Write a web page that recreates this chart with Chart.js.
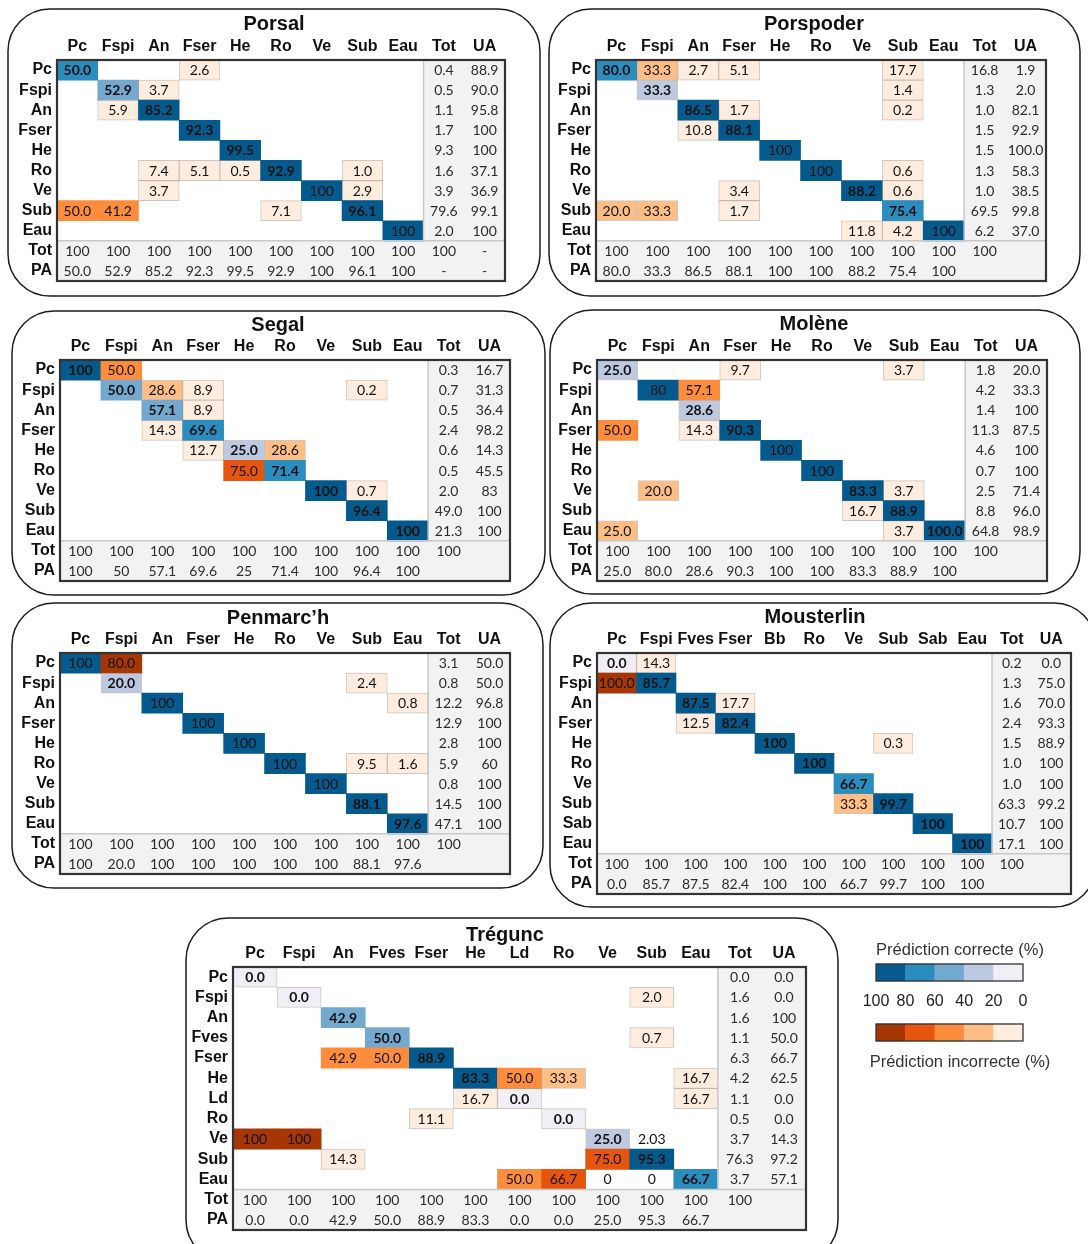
<!DOCTYPE html>
<html>
<head>
<meta charset="utf-8">
<script src="https://cdn.jsdelivr.net/npm/chart.js@4.4.1/dist/chart.umd.min.js"></script>
<style>
  body { margin: 0; background: #fff; width: 1088px; height: 1244px; overflow: hidden; position: relative; }
  canvas { position: absolute; }
</style>
</head>
<body>
<script>
// ---- confusion matrices (% per reference column), one block per site ----

const porsalCols = ['Pc', 'Fspi', 'An', 'Fser', 'He', 'Ro', 'Ve', 'Sub', 'Eau'];
const porsalRows = ['Pc', 'Fspi', 'An', 'Fser', 'He', 'Ro', 'Ve', 'Sub', 'Eau'];
const porsalMatrix = [
  ['50.0', '', '', '2.6', '', '', '', '', ''],
  ['', '52.9', '3.7', '', '', '', '', '', ''],
  ['', '5.9', '85.2', '', '', '', '', '', ''],
  ['', '', '', '92.3', '', '', '', '', ''],
  ['', '', '', '', '99.5', '', '', '', ''],
  ['', '', '7.4', '5.1', '0.5', '92.9', '', '1.0', ''],
  ['', '', '3.7', '', '', '', '100', '2.9', ''],
  ['50.0', '41.2', '', '', '', '7.1', '', '96.1', ''],
  ['', '', '', '', '', '', '', '', '100']
];
const porsalTot = ['0.4', '0.5', '1.1', '1.7', '9.3', '1.6', '3.9', '79.6', '2.0'];
const porsalUA = ['88.9', '90.0', '95.8', '100', '100', '37.1', '36.9', '99.1', '100'];
const porsalTotRow = ['100', '100', '100', '100', '100', '100', '100', '100', '100', '100', '-'];
const porsalPA = ['50.0', '52.9', '85.2', '92.3', '99.5', '92.9', '100', '96.1', '100', '-', '-'];

const porspoderCols = ['Pc', 'Fspi', 'An', 'Fser', 'He', 'Ro', 'Ve', 'Sub', 'Eau'];
const porspoderRows = ['Pc', 'Fspi', 'An', 'Fser', 'He', 'Ro', 'Ve', 'Sub', 'Eau'];
const porspoderMatrix = [
  ['80.0', '33.3', '2.7', '5.1', '', '', '', '17.7', ''],
  ['', '33.3', '', '', '', '', '', '1.4', ''],
  ['', '', '86.5', '1.7', '', '', '', '0.2', ''],
  ['', '', '10.8', '88.1', '', '', '', '', ''],
  ['', '', '', '', '100', '', '', '', ''],
  ['', '', '', '', '', '100', '', '0.6', ''],
  ['', '', '', '3.4', '', '', '88.2', '0.6', ''],
  ['20.0', '33.3', '', '1.7', '', '', '', '75.4', ''],
  ['', '', '', '', '', '', '11.8', '4.2', '100']
];
const porspoderTot = ['16.8', '1.3', '1.0', '1.5', '1.5', '1.3', '1.0', '69.5', '6.2'];
const porspoderUA = ['1.9', '2.0', '82.1', '92.9', '100.0', '58.3', '38.5', '99.8', '37.0'];
const porspoderTotRow = ['100', '100', '100', '100', '100', '100', '100', '100', '100', '100', ''];
const porspoderPA = ['80.0', '33.3', '86.5', '88.1', '100', '100', '88.2', '75.4', '100', '', ''];

const segalCols = ['Pc', 'Fspi', 'An', 'Fser', 'He', 'Ro', 'Ve', 'Sub', 'Eau'];
const segalRows = ['Pc', 'Fspi', 'An', 'Fser', 'He', 'Ro', 'Ve', 'Sub', 'Eau'];
const segalMatrix = [
  ['100', '50.0', '', '', '', '', '', '', ''],
  ['', '50.0', '28.6', '8.9', '', '', '', '0.2', ''],
  ['', '', '57.1', '8.9', '', '', '', '', ''],
  ['', '', '14.3', '69.6', '', '', '', '', ''],
  ['', '', '', '12.7', '25.0', '28.6', '', '', ''],
  ['', '', '', '', '75.0', '71.4', '', '', ''],
  ['', '', '', '', '', '', '100', '0.7', ''],
  ['', '', '', '', '', '', '', '96.4', ''],
  ['', '', '', '', '', '', '', '', '100']
];
const segalTot = ['0.3', '0.7', '0.5', '2.4', '0.6', '0.5', '2.0', '49.0', '21.3'];
const segalUA = ['16.7', '31.3', '36.4', '98.2', '14.3', '45.5', '83', '100', '100'];
const segalTotRow = ['100', '100', '100', '100', '100', '100', '100', '100', '100', '100', ''];
const segalPA = ['100', '50', '57.1', '69.6', '25', '71.4', '100', '96.4', '100', '', ''];

const moleneCols = ['Pc', 'Fspi', 'An', 'Fser', 'He', 'Ro', 'Ve', 'Sub', 'Eau'];
const moleneRows = ['Pc', 'Fspi', 'An', 'Fser', 'He', 'Ro', 'Ve', 'Sub', 'Eau'];
const moleneMatrix = [
  ['25.0', '', '', '9.7', '', '', '', '3.7', ''],
  ['', '80', '57.1', '', '', '', '', '', ''],
  ['', '', '28.6', '', '', '', '', '', ''],
  ['50.0', '', '14.3', '90.3', '', '', '', '', ''],
  ['', '', '', '', '100', '', '', '', ''],
  ['', '', '', '', '', '100', '', '', ''],
  ['', '20.0', '', '', '', '', '83.3', '3.7', ''],
  ['', '', '', '', '', '', '16.7', '88.9', ''],
  ['25.0', '', '', '', '', '', '', '3.7', '100.0']
];
const moleneTot = ['1.8', '4.2', '1.4', '11.3', '4.6', '0.7', '2.5', '8.8', '64.8'];
const moleneUA = ['20.0', '33.3', '100', '87.5', '100', '100', '71.4', '96.0', '98.9'];
const moleneTotRow = ['100', '100', '100', '100', '100', '100', '100', '100', '100', '100', ''];
const molenePA = ['25.0', '80.0', '28.6', '90.3', '100', '100', '83.3', '88.9', '100', '', ''];

const penmarchCols = ['Pc', 'Fspi', 'An', 'Fser', 'He', 'Ro', 'Ve', 'Sub', 'Eau'];
const penmarchRows = ['Pc', 'Fspi', 'An', 'Fser', 'He', 'Ro', 'Ve', 'Sub', 'Eau'];
const penmarchMatrix = [
  ['100', '80.0', '', '', '', '', '', '', ''],
  ['', '20.0', '', '', '', '', '', '2.4', ''],
  ['', '', '100', '', '', '', '', '', '0.8'],
  ['', '', '', '100', '', '', '', '', ''],
  ['', '', '', '', '100', '', '', '', ''],
  ['', '', '', '', '', '100', '', '9.5', '1.6'],
  ['', '', '', '', '', '', '100', '', ''],
  ['', '', '', '', '', '', '', '88.1', ''],
  ['', '', '', '', '', '', '', '', '97.6']
];
const penmarchTot = ['3.1', '0.8', '12.2', '12.9', '2.8', '5.9', '0.8', '14.5', '47.1'];
const penmarchUA = ['50.0', '50.0', '96.8', '100', '100', '60', '100', '100', '100'];
const penmarchTotRow = ['100', '100', '100', '100', '100', '100', '100', '100', '100', '100', ''];
const penmarchPA = ['100', '20.0', '100', '100', '100', '100', '100', '88.1', '97.6', '', ''];

const mousterlinCols = ['Pc', 'Fspi', 'Fves', 'Fser', 'Bb', 'Ro', 'Ve', 'Sub', 'Sab', 'Eau'];
const mousterlinRows = ['Pc', 'Fspi', 'An', 'Fser', 'He', 'Ro', 'Ve', 'Sub', 'Sab', 'Eau'];
const mousterlinMatrix = [
  ['0.0', '14.3', '', '', '', '', '', '', '', ''],
  ['100.0', '85.7', '', '', '', '', '', '', '', ''],
  ['', '', '87.5', '17.7', '', '', '', '', '', ''],
  ['', '', '12.5', '82.4', '', '', '', '', '', ''],
  ['', '', '', '', '100', '', '', '0.3', '', ''],
  ['', '', '', '', '', '100', '', '', '', ''],
  ['', '', '', '', '', '', '66.7', '', '', ''],
  ['', '', '', '', '', '', '33.3', '99.7', '', ''],
  ['', '', '', '', '', '', '', '', '100', ''],
  ['', '', '', '', '', '', '', '', '', '100']
];
const mousterlinTot = ['0.2', '1.3', '1.6', '2.4', '1.5', '1.0', '1.0', '63.3', '10.7', '17.1'];
const mousterlinUA = ['0.0', '75.0', '70.0', '93.3', '88.9', '100', '100', '99.2', '100', '100'];
const mousterlinTotRow = ['100', '100', '100', '100', '100', '100', '100', '100', '100', '100', '100', ''];
const mousterlinPA = ['0.0', '85.7', '87.5', '82.4', '100', '100', '66.7', '99.7', '100', '100', '', ''];

const treguncCols = ['Pc', 'Fspi', 'An', 'Fves', 'Fser', 'He', 'Ld', 'Ro', 'Ve', 'Sub', 'Eau'];
const treguncRows = ['Pc', 'Fspi', 'An', 'Fves', 'Fser', 'He', 'Ld', 'Ro', 'Ve', 'Sub', 'Eau'];
const treguncMatrix = [
  ['0.0', '', '', '', '', '', '', '', '', '', ''],
  ['', '0.0', '', '', '', '', '', '', '', '2.0', ''],
  ['', '', '42.9', '', '', '', '', '', '', '', ''],
  ['', '', '', '50.0', '', '', '', '', '', '0.7', ''],
  ['', '', '42.9', '50.0', '88.9', '', '', '', '', '', ''],
  ['', '', '', '', '', '83.3', '50.0', '33.3', '', '', '16.7'],
  ['', '', '', '', '', '16.7', '0.0', '', '', '', '16.7'],
  ['', '', '', '', '11.1', '', '', '0.0', '', '', ''],
  ['100', '100', '', '', '', '', '', '', '25.0', '2.03', ''],
  ['', '', '14.3', '', '', '', '', '', '75.0', '95.3', ''],
  ['', '', '', '', '', '', '50.0', '66.7', '0', '0', '66.7']
];
const treguncTot = ['0.0', '1.6', '1.6', '1.1', '6.3', '4.2', '1.1', '0.5', '3.7', '76.3', '3.7'];
const treguncUA = ['0.0', '0.0', '100', '50.0', '66.7', '62.5', '0.0', '0.0', '14.3', '97.2', '57.1'];
const treguncTotRow = ['100', '100', '100', '100', '100', '100', '100', '100', '100', '100', '100', '100', ''];
const treguncPA = ['0.0', '0.0', '42.9', '50.0', '88.9', '83.3', '0.0', '0.0', '25.0', '95.3', '66.7', '', ''];
// entries printed without a colour cell [row, col]
const treguncUnshaded = [[8, 9], [10, 8], [10, 9]];

// colour bar steps (%)
const legendSteps = [100, 80, 60, 40, 20, 0];

// ---- styling ----
const BLUES = ['#f1eef6', '#bdc9e1', '#74a9cf', '#2b8cbe', '#045a8d'];
const ORANGES = ['#feedde', '#fdbe85', '#fd8d3c', '#e6550d', '#a63603'];
const FONT_NUM = 'Lato, "Open Sans", sans-serif';
const FONT_HEAD = '"Liberation Sans", Arial, sans-serif';
const LABEL_W = 44;
const HEAD_H = 28;

function shadeIndex(v) {
  return v >= 80 ? 4 : v >= 60 ? 3 : v >= 40 ? 2 : v >= 20 ? 1 : 0;
}

const panels = [
  { title: 'Porsal', cols: porsalCols, rows: porsalRows, matrix: porsalMatrix, tot: porsalTot, ua: porsalUA,
    totRow: porsalTotRow, pa: porsalPA, box: [8, 9, 540, 296], grid: [57, 60, 505, 281], titleAt: [274, 24],
    shade: { '0,0': 3 } },
  { title: 'Porspoder', cols: porspoderCols, rows: porspoderRows, matrix: porspoderMatrix, tot: porspoderTot, ua: porspoderUA,
    totRow: porspoderTotRow, pa: porspoderPA, box: [549, 9, 1080, 296], grid: [596, 60, 1046, 281], titleAt: [814, 24],
    shade: { '0,0': 3 } },
  { title: 'Segal', cols: segalCols, rows: segalRows, matrix: segalMatrix, tot: segalTot, ua: segalUA,
    totRow: segalTotRow, pa: segalPA, box: [12, 311, 545, 595], grid: [60, 360, 510, 581], titleAt: [278, 325],
    boldAll: true },
  { title: 'Molène', cols: moleneCols, rows: moleneRows, matrix: moleneMatrix, tot: moleneTot, ua: moleneUA,
    totRow: moleneTotRow, pa: molenePA, box: [550, 310, 1080, 594], grid: [597, 360, 1047, 581], titleAt: [814, 324] },
  { title: 'Penmarc\u2019h', cols: penmarchCols, rows: penmarchRows, matrix: penmarchMatrix, tot: penmarchTot, ua: penmarchUA,
    totRow: penmarchTotRow, pa: penmarchPA, box: [12, 603, 543, 888], grid: [60, 653, 510, 874], titleAt: [278, 618] },
  { title: 'Mousterlin', cols: mousterlinCols, rows: mousterlinRows, matrix: mousterlinMatrix, tot: mousterlinTot, ua: mousterlinUA,
    totRow: mousterlinTotRow, pa: mousterlinPA, box: [550, 603, 1096, 907], grid: [597, 653, 1071, 894], titleAt: [815, 617],
    boldAll: true },
  { title: 'Trégunc', cols: treguncCols, rows: treguncRows, matrix: treguncMatrix, tot: treguncTot, ua: treguncUA,
    totRow: treguncTotRow, pa: treguncPA, box: [186, 918, 838, 1262], grid: [233, 967, 806, 1230], titleAt: [505, 935],
    unshaded: treguncUnshaded }
];

function cellFill(raw) {
  if (raw.plain || raw.shade === undefined) return 'rgba(0,0,0,0)';
  return (raw.diag ? BLUES : ORANGES)[raw.shade];
}

// frame, title, shaded totals area, borders and the printed numbers
const tablePlugin = {
  id: 'table',
  beforeDraw(chart, args, o) {
    const { ctx } = chart;
    ctx.save();
    ctx.strokeStyle = '#1d1d1d';
    ctx.lineWidth = 1.5;
    ctx.beginPath();
    ctx.roundRect(o.frame[0], o.frame[1], o.frame[2], o.frame[3], 42);
    ctx.stroke();
    ctx.fillStyle = '#111';
    ctx.font = 'bold 20px ' + FONT_HEAD;
    ctx.textAlign = 'center';
    ctx.textBaseline = 'middle';
    ctx.fillText(o.title, o.titleAt[0], o.titleAt[1]);
    ctx.restore();
  },
  beforeDatasetsDraw(chart, args, o) {
    const { ctx, chartArea: a, scales: { x, y } } = chart;
    const half = (x.getPixelForValue(1) - x.getPixelForValue(0)) / 2;
    const xs = x.getPixelForValue(o.nCols) - half;
    const ys = y.getPixelForValue(o.nRows);
    ctx.save();
    ctx.fillStyle = '#fff';
    ctx.fillRect(a.left, a.top, a.width, a.height);
    ctx.fillStyle = '#f2f2f2';
    ctx.fillRect(xs, a.top, a.right - xs, ys - a.top);
    ctx.fillRect(a.left, ys, a.width, a.bottom - ys);
    ctx.restore();
  },
  afterDatasetsDraw(chart, args, o) {
    const { ctx, chartArea: a, scales: { x, y } } = chart;
    const half = (x.getPixelForValue(1) - x.getPixelForValue(0)) / 2;
    const xs = x.getPixelForValue(o.nCols) - half;
    const ys = y.getPixelForValue(o.nRows);
    ctx.save();
    ctx.strokeStyle = '#c8c8c8';
    ctx.lineWidth = 1.5;
    ctx.beginPath();
    ctx.moveTo(xs, a.top); ctx.lineTo(xs, ys);
    ctx.moveTo(a.left, ys); ctx.lineTo(a.right, ys);
    ctx.stroke();
    ctx.strokeStyle = '#333';
    ctx.lineWidth = 2.2;
    ctx.strokeRect(a.left, a.top, a.width, a.height);

    ctx.textAlign = 'center';
    ctx.textBaseline = 'middle';
    chart.data.datasets.forEach((ds, di) => {
      chart.getDatasetMeta(di).data.forEach((el, i) => {
        const raw = ds.data[i];
        const bold = raw.diag && !raw.plain && (raw.t.indexOf('.') >= 0 || o.boldAll);
        ctx.font = (bold ? 'bold ' : '') + '14px ' + FONT_NUM;
        ctx.fillStyle = raw.total ? '#2b2b2b' : '#111';
        ctx.fillText(raw.t, el.x, (el.y + el.base) / 2 + 0.5);
      });
    });
    ctx.restore();
  }
};

function buildPanel(p) {
  const nCols = p.cols.length;
  const nRows = p.rows.length;
  const colLabels = p.cols.concat(['Tot', 'UA']);
  const rowLabels = p.rows.concat(['Tot', 'PA']);
  const unshaded = p.unshaded || [];

  const cells = [];
  p.matrix.forEach((row, r) => row.forEach((t, c) => {
    if (t === '') return;
    const plain = unshaded.some(([ur, uc]) => ur === r && uc === c);
    const forced = p.shade ? p.shade[r + ',' + c] : undefined;
    cells.push({ x: colLabels[c], y: [r, r + 1], t, diag: r === c, plain,
      shade: forced !== undefined ? forced : shadeIndex(parseFloat(t)) });
  }));

  const totals = [];
  p.rows.forEach((_, r) => {
    totals.push({ x: 'Tot', y: [r, r + 1], t: p.tot[r], total: true });
    totals.push({ x: 'UA', y: [r, r + 1], t: p.ua[r], total: true });
  });
  p.totRow.forEach((t, c) => { if (t !== '') totals.push({ x: colLabels[c], y: [nRows, nRows + 1], t, total: true }); });
  p.pa.forEach((t, c) => { if (t !== '') totals.push({ x: colLabels[c], y: [nRows + 1, nRows + 2], t, total: true }); });

  const cx = p.box[0] - 2, cy = p.box[1] - 2;
  const cw = p.box[2] - p.box[0] + 4, ch = p.box[3] - p.box[1] + 4;
  const cv = document.createElement('canvas');
  cv.width = cw; cv.height = ch;
  cv.style.left = cx + 'px'; cv.style.top = cy + 'px';
  cv.style.width = cw + 'px'; cv.style.height = ch + 'px';
  document.body.appendChild(cv);

  const barStyle = { grouped: false, barPercentage: 1, categoryPercentage: 1, borderSkipped: false };

  new Chart(cv, {
    type: 'bar',
    data: {
      labels: colLabels,
      datasets: [
        Object.assign({
          data: cells,
          backgroundColor: ctx => cellFill(ctx.raw),
          borderColor: ctx => (ctx.raw.plain || ctx.raw.shade > 1) ? 'rgba(0,0,0,0)' : 'rgba(150,130,115,0.45)',
          borderWidth: ctx => (ctx.raw.plain || ctx.raw.shade > 1) ? 0 : 1
        }, barStyle),
        Object.assign({ data: totals, backgroundColor: 'rgba(0,0,0,0)', borderWidth: 0 }, barStyle)
      ]
    },
    options: {
      responsive: false,
      animation: false,
      events: [],
      layout: {
        autoPadding: false,
        padding: {
          left: p.grid[0] - cx - LABEL_W,
          top: p.grid[1] - cy - HEAD_H,
          right: cx + cw - p.grid[2],
          bottom: cy + ch - p.grid[3]
        }
      },
      scales: {
        x: {
          type: 'category', position: 'top', offset: true,
          grid: { display: false, drawTicks: false }, border: { display: false },
          ticks: { color: '#111', font: { family: FONT_HEAD, size: 16, weight: 'bold' }, padding: 4,
                   maxRotation: 0, autoSkip: false },
          afterFit: s => { s.height = HEAD_H; s.paddingLeft = 0; s.paddingRight = 0; }
        },
        y: {
          type: 'linear', min: 0, max: nRows + 2, reverse: true,
          grid: { display: false, drawTicks: false }, border: { display: false },
          afterBuildTicks: s => { s.ticks = rowLabels.map((_, i) => ({ value: i + 0.5 })); },
          ticks: { color: '#111', font: { family: FONT_HEAD, size: 16, weight: 'bold' }, padding: 5,
                   autoSkip: false, callback: (v, i) => rowLabels[i] },
          afterFit: s => { s.width = LABEL_W; s.paddingTop = 0; s.paddingBottom = 0; }
        }
      },
      plugins: {
        legend: { display: false },
        tooltip: { enabled: false },
        table: {
          frame: [2, 2, p.box[2] - p.box[0], p.box[3] - p.box[1]],
          title: p.title,
          titleAt: [p.titleAt[0] - cx, p.titleAt[1] - cy],
          nCols, nRows,
          boldAll: !!p.boldAll
        }
      }
    },
    plugins: [tablePlugin]
  });
}

panels.forEach(buildPanel);

// ---- colour bar key ----
const keyPlugin = {
  id: 'key',
  afterDatasetsDraw(chart, args, o) {
    const { ctx } = chart;
    ctx.save();
    ctx.strokeStyle = '#333';
    ctx.lineWidth = 1.3;
    chart.data.datasets.forEach((ds, di) => {
      const els = chart.getDatasetMeta(di).data;
      let l = Infinity, r = -Infinity, t = Infinity, b = -Infinity;
      els.forEach(el => {
        const p = el.getProps(['x', 'y', 'base', 'height'], true);
        l = Math.min(l, p.x, p.base); r = Math.max(r, p.x, p.base);
        t = Math.min(t, p.y - p.height / 2); b = Math.max(b, p.y + p.height / 2);
      });
      ctx.strokeRect(l, t, r - l, b - t);
    });
    ctx.fillStyle = '#333';
    ctx.font = '16.5px ' + FONT_HEAD;
    ctx.textAlign = 'center';
    ctx.textBaseline = 'middle';
    ctx.fillText('Prédiction correcte (%)', o.textX, o.topY);
    ctx.fillText('Prédiction incorrecte (%)', o.textX, o.bottomY);
    ctx.restore();
  }
};

(function buildKey() {
  const cx = 850, cy = 930, cw = 230, ch = 150;
  const cv = document.createElement('canvas');
  cv.width = cw; cv.height = ch;
  cv.style.left = cx + 'px'; cv.style.top = cy + 'px';
  cv.style.width = cw + 'px'; cv.style.height = ch + 'px';
  document.body.appendChild(cv);

  const spans = legendSteps.slice(1).map((lo, i) => [lo, legendSteps[i]]);
  const barStyle = { grouped: false, barThickness: 17, borderWidth: 0 };

  new Chart(cv, {
    type: 'bar',
    data: {
      labels: ['correct', 'scale', 'incorrect'],
      datasets: [
        Object.assign({ data: spans.map(s => ({ y: 'correct', x: s })),
          backgroundColor: spans.map(s => BLUES[shadeIndex(s[0])]) }, barStyle),
        Object.assign({ data: spans.map(s => ({ y: 'incorrect', x: s })),
          backgroundColor: spans.map(s => ORANGES[shadeIndex(s[0])]) }, barStyle)
      ]
    },
    options: {
      indexAxis: 'y',
      responsive: false,
      animation: false,
      events: [],
      layout: { autoPadding: false, padding: { left: 26, right: 57, top: 27.5, bottom: 32.5 } },
      scales: {
        x: {
          type: 'linear', min: 0, max: 100, reverse: true, position: { y: 0.56 },
          afterBuildTicks: s => { s.ticks = legendSteps.map(v => ({ value: v })); },
          grid: { display: false, drawTicks: false }, border: { display: false },
          ticks: { color: '#222', font: { family: FONT_HEAD, size: 16 }, padding: 3, maxRotation: 0,
                   autoSkip: false, callback: v => String(v) }
        },
        y: { type: 'category', display: false }
      },
      plugins: {
        legend: { display: false },
        tooltip: { enabled: false },
        key: { textX: 110, topY: 20, bottomY: 132 }
      }
    },
    plugins: [keyPlugin]
  });
})();
</script>
</body>
</html>
